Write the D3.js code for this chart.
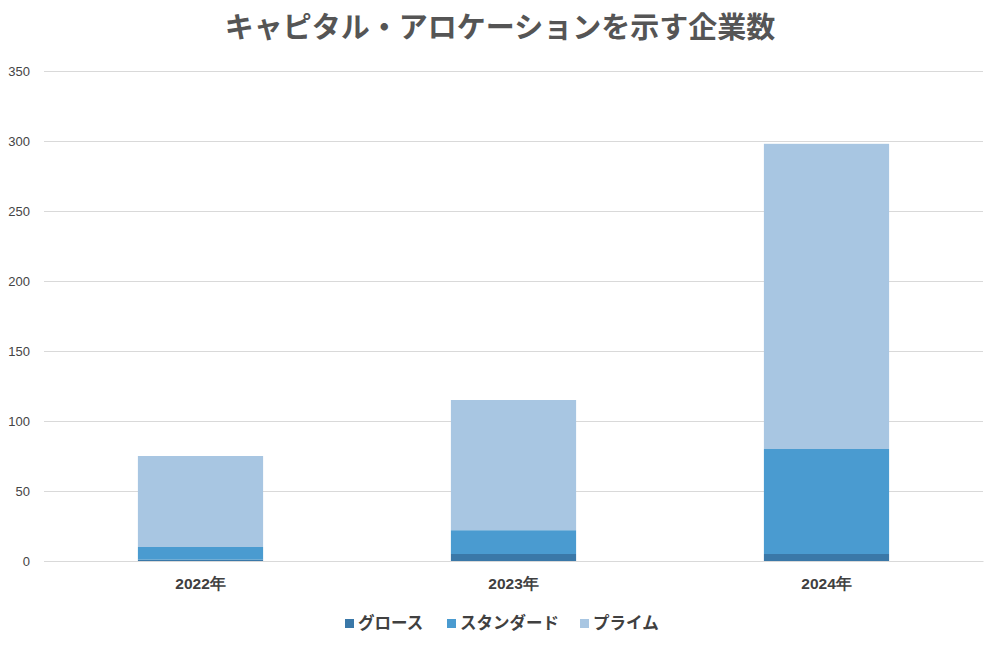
<!DOCTYPE html>
<html>
<head>
<meta charset="utf-8">
<script src="https://cdn.jsdelivr.net/npm/d3@7"></script>
<style>
body{margin:0;background:#fff;}
svg{display:block;font-family:"Noto Sans CJK JP","Noto Sans",sans-serif;}
</style>
</head>
<body>
<svg id="chart" width="1000" height="650"></svg>
<script>
const title = "キャピタル・アロケーションを示す企業数";
const categories = ["2022年","2023年","2024年"];
const seriesNames = ["グロース","スタンダード","プライム"];
const growth = [1, 5, 5];
const standard = [9, 17, 75];
const prime = [65, 93, 218];
const yTicks = [0,50,100,150,200,250,300,350];
const colors = ["#3a78a8","#4a9bd0","#a8c6e2"];

const svg = d3.select("#chart");
const margin = {left:44, right:17, top:71, bottom:89};
const W = 1000, H = 650;
const x = d3.scaleBand().domain(categories).range([margin.left, W-margin.right]).paddingInner(0.6).paddingOuter(0.3);
const y = d3.scaleLinear().domain([0,350]).range([H-margin.bottom, margin.top]);

svg.append("text").attr("x",500).attr("y",38).attr("text-anchor","middle")
  .attr("font-size",29).attr("font-weight","bold").attr("fill","#555").text(title);

const yAxis = d3.axisLeft(y).tickValues(yTicks).tickSize(-(W-margin.left-margin.right)).tickPadding(14);
const gy = svg.append("g").attr("transform",`translate(${margin.left},0)`).call(yAxis);
gy.select(".domain").remove();
gy.selectAll(".tick line").attr("stroke","#d9d9d9").attr("stroke-width",1);
gy.selectAll(".tick text").attr("font-size",13).attr("fill","#444").attr("font-family","Liberation Sans, Arial, sans-serif");

const data = categories.map((c,i)=>({cat:c, "グロース":growth[i], "スタンダード":standard[i], "プライム":prime[i]}));
const stacked = d3.stack().keys(seriesNames)(data);

svg.append("g").selectAll("g").data(stacked).join("g")
  .attr("fill",(d,i)=>colors[i])
  .selectAll("rect").data(d=>d).join("rect")
  .attr("x",d=>x(d.data.cat))
  .attr("width",x.bandwidth())
  .attr("y",d=>y(d[1]))
  .attr("height",d=>y(d[0])-y(d[1]));

const xAxis = d3.axisBottom(x).tickSize(0).tickPadding(17);
const gx = svg.append("g").attr("transform",`translate(0,${H-margin.bottom})`).call(xAxis);
gx.select(".domain").attr("stroke","#d9d9d9");
gx.selectAll(".tick text").attr("font-size",15.5).attr("font-weight","bold").attr("fill","#404040");

const legend = svg.append("g");
const items = [{x:345},{x:447},{x:580}];
seriesNames.forEach((n,i)=>{
  const g = legend.append("g").attr("transform",`translate(${items[i].x},623)`);
  g.append("rect").attr("x",0).attr("y",-4).attr("width",9).attr("height",9).attr("fill",colors[i]);
  g.append("text").attr("x",13).attr("y",6).attr("font-size",16.5).attr("font-weight","bold").attr("fill","#404040").text(n);
});
</script>
</body>
</html>
